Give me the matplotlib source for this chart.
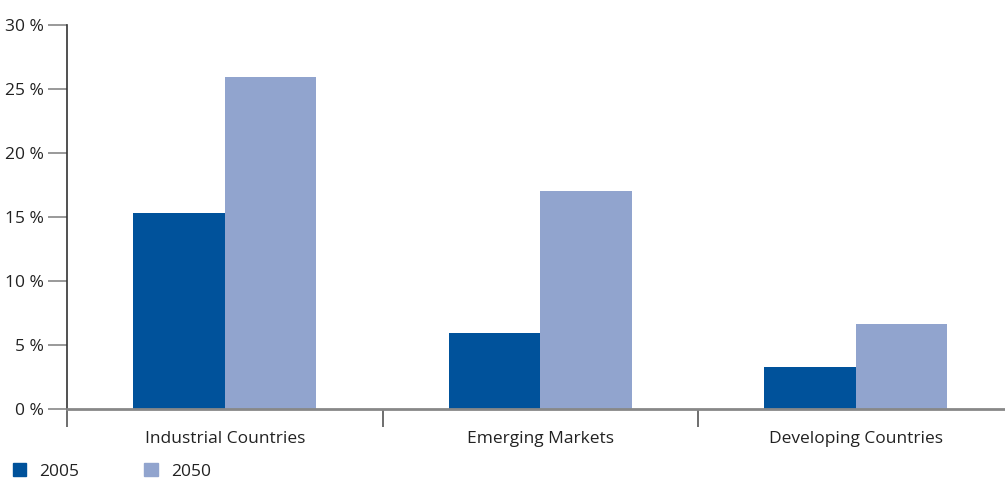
import numpy as np
import matplotlib.pyplot as plt
from matplotlib.patches import Patch

# データ
categories = ['Industrial Countries', 'Emerging Markets', 'Developing Countries']
years = ['2005', '2050']
values_2005 = [15.3, 5.9, 3.3]
values_2050 = [25.9, 17.0, 6.6]
y_ticks = [0, 5, 10, 15, 20, 25, 30]

color_2005 = '#00529b'
color_2050 = '#91a4ce'
text_color = '#222222'

plt.rcParams['font.family'] = ['Open Sans', 'DejaVu Sans']

fig = plt.figure(figsize=(10.05, 4.82), dpi=100)
ax = fig.add_axes([0.0667, 0.1515, 0.9333, 0.7967])

x = np.arange(len(categories))
w = 0.29
ax.bar(x - w / 2, values_2005, width=w, color=color_2005, zorder=2)
ax.bar(x + w / 2, values_2050, width=w, color=color_2050, zorder=2)

ax.set_xlim(-0.5, 2.473)
ax.set_ylim(0, 30)

# y軸
ax.set_yticks(y_ticks)
ax.set_yticklabels([f'{v} %' for v in y_ticks], fontsize=12.5, color=text_color)
ax.tick_params(axis='y', length=14, width=1.2, color='#888888', pad=3)

# x軸: ラベルは中央、区切り線はカテゴリ間
ax.set_xticks(x)
ax.set_xticklabels(categories, fontsize=12.5, color=text_color)
ax.tick_params(axis='x', which='major', length=0, pad=16)
ax.set_xticks([-0.5, 0.5, 1.5], minor=True)
ax.tick_params(axis='x', which='minor', length=13, width=1.2, color='#555555')

for s in ['top', 'right', 'bottom']:
    ax.spines[s].set_visible(False)
ax.spines['left'].set_color('#333333')
ax.spines['left'].set_linewidth(1.2)
ax.axhline(0, color='#888888', lw=2, zorder=3, clip_on=False)

# 凡例
handles = [Patch(color=color_2005, label='2005'), Patch(color=color_2050, label='2050')]
fig.legend(handles=handles, loc='lower left', bbox_to_anchor=(-0.003, -0.028), ncol=2,
           frameon=False, fontsize=12.5, handlelength=0.8, handleheight=0.8,
           handletextpad=0.75, columnspacing=3.7, labelcolor=text_color)

plt.savefig('out.png', dpi=100)
plt.close()
